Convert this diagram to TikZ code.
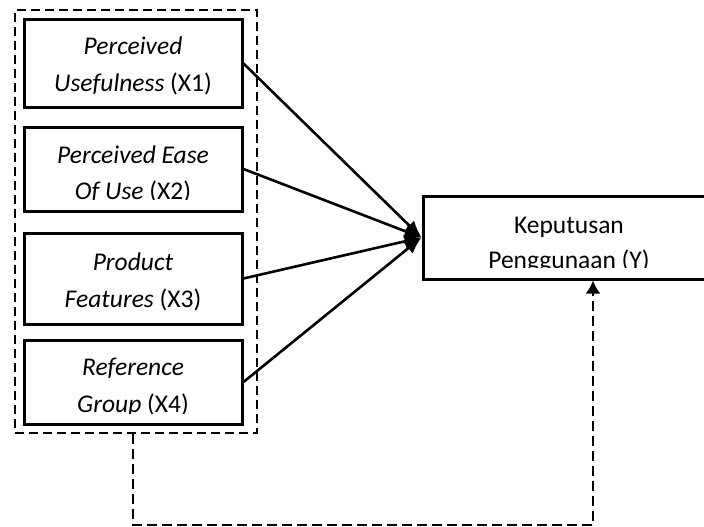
\documentclass[tikz,border=0pt]{standalone}
\usepackage{fontspec}
\setmainfont{Carlito}
\usetikzlibrary{arrows.meta}
\begin{document}
\begin{tikzpicture}[x=1pt,y=-1pt,
  box/.style={draw, line width=3pt, rectangle, inner sep=0pt},
  txt/.style={font=\fontsize{25.5}{30}\selectfont, anchor=base, inner sep=0pt},
  grp/.style={draw, line width=2pt, dash pattern=on 9pt off 5pt, rectangle, inner sep=0pt},
  link/.style={line width=2.6pt, -{Latex[length=17pt,width=14pt]}},
  fb/.style={line width=2.4pt, dash pattern=on 10pt off 5pt, -{Latex[length=13pt,width=15pt]}}]
\useasboundingbox (0,0) rectangle (704,527);
% group box
\node[grp, minimum width=242, minimum height=423] (grp) at (136,221.5) {};
% boxes
\node[box, minimum width=218, minimum height=87] (x1) at (133,63.5) {};
\node[box, minimum width=218, minimum height=84] (x2) at (133,169) {};
\node[box, minimum width=218, minimum height=91] (x3) at (133,278.5) {};
\node[box, minimum width=218, minimum height=84] (x4) at (133,382) {};
\node[box, minimum width=292, minimum height=83] (y) at (569,237.5) {};
% texts
\node[txt] (t1a) at (133,55) {\textit{Perceived}};
\node[txt] (t1b) at (133,92) {\textit{Usefulness} (X1)};
\begin{scope}
\clip (24,127) rectangle (242,199);
\node[txt] (t2a) at (133,163) {\textit{Perceived Ease}};
\node[txt] (t2b) at (133,199) {\textit{Of Use} (X2)};
\end{scope}
\node[txt] (t3a) at (133,270) {\textit{Product}};
\node[txt] (t3b) at (133,307) {\textit{Features} (X3)};
\begin{scope}
\clip (24,340) rectangle (242,413);
\node[txt] (t4a) at (133,375) {\textit{Reference}};
\node[txt] (t4b) at (133,412) {\textit{Group} (X4)};
\end{scope}
\begin{scope}
\clip (423,196) rectangle (704,267);
\node[txt] (tya) at (569,233) {Keputusan};
\node[txt] (tyb) at (569,268) {Penggunaan (Y)};
\end{scope}
% links
\draw[link] (x1.east) -- (y.west);
\draw[link] (x2.east) -- (y.west);
\draw[link] (x3.east) -- (y.west);
\draw[link] (x4.east) -- (y.west);
% feedback
\coordinate (fbc) at (593,525);
\draw[fb] (x4.center |- grp.south) -- (x4.center |- fbc) -- (fbc) -- (fbc |- y.south);
\end{tikzpicture}
\end{document}
